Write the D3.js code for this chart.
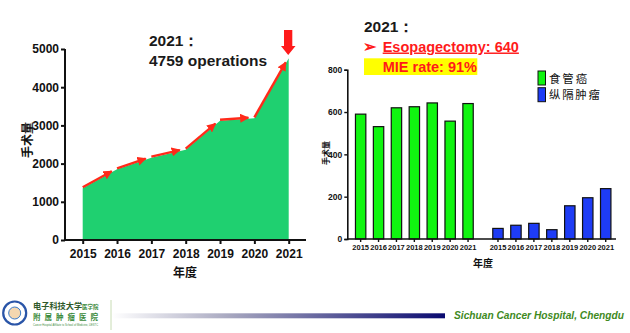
<!DOCTYPE html>
<html><head><meta charset="utf-8">
<script src="https://cdn.jsdelivr.net/npm/d3@7/dist/d3.min.js"></script>
<style>
html,body{margin:0;padding:0;background:#fff;}
svg{display:block;}
text{font-family:"Liberation Sans",Arial,sans-serif;}
.cjk{font-family:"Noto Sans CJK SC",sans-serif;}
</style></head>
<body>
<svg id="c" width="630" height="333"></svg>
<script>
// ---- data ----
const years = ["2015","2016","2017","2018","2019","2020","2021"];
const totalOps = [1353, 1850, 2155, 2364, 3123, 3185, 4759];
const leftYTicks = [0, 1000, 2000, 3000, 4000, 5000];
const esophagealCancer = [590, 531, 620, 625, 643, 557, 640];
const mediastinalTumor = [50, 65, 74, 44, 157, 195, 238];
const rightYTicks = [0, 200, 400, 600, 800];
const legendLabels = ["食管癌", "纵隔肿瘤"];

const svg = d3.select("#c");
const defs = svg.append("defs");
defs.append("marker").attr("id","ah").attr("viewBox","0 0 10 10").attr("refX",9).attr("refY",5)
  .attr("markerWidth",3.8).attr("markerHeight",3.8).attr("orient","auto")
  .append("path").attr("d","M0,0 L10,5 L0,10 z").attr("fill","#ff2a1a");

// ---------- LEFT CHART ----------
const xL = d3.scalePoint().domain(years).range([82.7, 288.7]);
const yL = d3.scaleLinear().domain([0, 5000]).range([240, 49]);
const gL = svg.append("g");
const pts = years.map((y,i)=>({year:y, v: totalOps[i]}));
gL.append("path").datum(pts)
  .attr("d", d3.area().x(d=>xL(d.year)).y0(yL(0)).y1(d=>yL(d.v)))
  .attr("fill","#1fd070");
// red arrows along the top edge
for (let i=0;i<pts.length-1;i++){
  const x1=xL(pts[i].year), y1=yL(pts[i].v)-1, x2=xL(pts[i+1].year), y2=yL(pts[i+1].v)-1;
  const dx=x2-x1, dy=y2-y1, L=Math.hypot(dx,dy), s=(L-6)/L;
  gL.append("line").attr("x1",x1).attr("y1",y1).attr("x2",x1+dx*s).attr("y2",y1+dy*s)
    .attr("stroke","#ff2a1a").attr("stroke-width",2.4).attr("marker-end","url(#ah)");
}
const axL = gL.append("g").attr("transform","translate(65,0)")
  .call(d3.axisLeft(yL).tickValues(leftYTicks).tickSize(4).tickPadding(2).tickFormat(d3.format("d")));
const axLx = gL.append("g").attr("transform","translate(0,240)")
  .call(d3.axisBottom(xL).tickSize(4).tickPadding(3));
[axL, axLx].forEach(a=>{
  a.selectAll("path").attr("stroke","#111").attr("stroke-width",2);
  a.selectAll("line").attr("stroke","#111").attr("stroke-width",2);
  a.selectAll("text").attr("fill","#111").attr("font-size",12).attr("font-weight","bold")
   .style("font-family","'Liberation Sans',Arial,sans-serif");
});
axLx.select("path.domain").attr("d","M65,0H306");
axL.select("path.domain").attr("d","M0,"+yL(0)+"V"+yL(5000));
axLx.selectAll("text").attr("dy","0.95em");
gL.append("text").attr("class","cjk").attr("transform","translate(32,140) rotate(-90)")
  .attr("text-anchor","middle").attr("font-size",12).attr("font-weight","bold").attr("fill","#111").text("手术量");
gL.append("text").attr("class","cjk").attr("x",185).attr("y",277)
  .attr("text-anchor","middle").attr("font-size",12).attr("font-weight","bold").attr("fill","#111").text("年度");
gL.append("text").attr("x",149).attr("y",46).attr("font-size",15.5).attr("font-weight","bold").attr("fill","#1a1a1a").text("2021：");
gL.append("text").attr("x",149).attr("y",66).attr("font-size",15.5).attr("font-weight","bold").attr("fill","#1a1a1a").text("4759 operations");
// big down arrow
gL.append("path").attr("d","M284,30 H292.3 V46 H295.5 L288.2,55 L281,46 H284 Z").attr("fill","#ff1a1a");

// ---------- RIGHT CHART ----------
const yR = d3.scaleLinear().domain([0, 800]).range([239, 69.7]);
const xG = d3.scaleBand().domain(years).range([351.7, 477]).paddingInner(0.42).paddingOuter(0.21);
const xB = d3.scaleBand().domain(years).range([489, 614.7]).paddingInner(0.42).paddingOuter(0.21);
const gR = svg.append("g");
gR.selectAll("rect.g").data(esophagealCancer).join("rect").attr("class","g")
  .attr("x",(d,i)=>xG(years[i])).attr("width",xG.bandwidth())
  .attr("y",d=>yR(d)).attr("height",d=>yR(0)-yR(d))
  .attr("fill","#10f510").attr("stroke","#111").attr("stroke-width",1.2);
gR.selectAll("rect.b").data(mediastinalTumor).join("rect").attr("class","b")
  .attr("x",(d,i)=>xB(years[i])).attr("width",xB.bandwidth())
  .attr("y",d=>yR(d)).attr("height",d=>yR(0)-yR(d))
  .attr("fill","#1e3cf5").attr("stroke","#111").attr("stroke-width",1.2);
const axR = gR.append("g").attr("transform","translate(347.3,0)")
  .call(d3.axisLeft(yR).tickValues(rightYTicks).tickSize(3).tickPadding(2));
const axRg = gR.append("g").attr("transform","translate(0,239)")
  .call(d3.axisBottom(xG).tickSize(3).tickPadding(3));
const axRb = gR.append("g").attr("transform","translate(0,239)")
  .call(d3.axisBottom(xB).tickSize(3).tickPadding(3));
[axR, axRg, axRb].forEach(a=>{
  a.selectAll("path").attr("stroke","#111").attr("stroke-width",1.6);
  a.selectAll("line").attr("stroke","#111").attr("stroke-width",1.4);
  a.selectAll("text").attr("fill","#111").attr("font-weight","bold")
   .style("font-family","'Liberation Sans',Arial,sans-serif");
});
axR.selectAll("text").attr("font-size",8.5);
axRg.selectAll("text").attr("font-size",7.5);
axRb.selectAll("text").attr("font-size",7.5);
axRb.select("path.domain").remove();
axRg.select("path.domain").attr("d","M347.3,0H616");
gR.append("text").attr("class","cjk").attr("transform","translate(329,153) rotate(-90)")
  .attr("text-anchor","middle").attr("font-size",8).attr("font-weight","bold").attr("fill","#111").text("手术量");
gR.append("text").attr("class","cjk").attr("x",483).attr("y",267)
  .attr("text-anchor","middle").attr("font-size",10).attr("font-weight","bold").attr("fill","#111").text("年度");
// legend
const legColors = ["#10f510","#1e3cf5"];
legendLabels.forEach((l,i)=>{
  gR.append("rect").attr("x",538).attr("y",71+i*16.7).attr("width",7.5).attr("height",14)
    .attr("fill",legColors[i]).attr("stroke","#111").attr("stroke-width",1);
  gR.append("text").attr("class","cjk").attr("x",549).attr("y",82.5+i*16.7)
    .attr("font-size",11.4).attr("fill","#111").attr("textLength", l.length*12.7).attr("lengthAdjust","spacing").text(l);
});
// annotation
gR.append("text").attr("x",364).attr("y",32).attr("font-size",15.5).attr("font-weight","bold").attr("fill","#1a1a1a").text("2021：");
gR.append("text").attr("class","cjk").attr("x",363).attr("y",52).attr("font-size",16).attr("font-weight","bold").attr("fill","#ff1a1a").text("➢");
gR.append("text").attr("x",382.7).attr("y",51.5).attr("font-size",14.5).attr("font-weight","bold").attr("fill","#ff1a1a")
  .attr("text-decoration","underline").text("Esopagectomy: 640");
gR.append("rect").attr("x",364).attr("y",58.3).attr("width",113.3).attr("height",16.7).attr("fill","#ffff00");
gR.append("text").attr("x",382.7).attr("y",71.5).attr("font-size",14.5).attr("font-weight","bold").attr("fill","#ff1a1a").text("MIE rate: 91%");

// ---------- FOOTER ----------
const gF = svg.append("g");
const grad = defs.append("linearGradient").attr("id","fg").attr("x1","0").attr("x2","1");
grad.append("stop").attr("offset","0").attr("stop-color","#ffffff");
grad.append("stop").attr("offset","0.35").attr("stop-color","#a8a8c0");
grad.append("stop").attr("offset","1").attr("stop-color","#0a0a70");
gF.append("rect").attr("x",112).attr("y",313.3).attr("width",333).attr("height",5).attr("fill","url(#fg)");
gF.append("text").attr("x",454).attr("y",319).attr("font-size",10.5).attr("font-weight","bold").attr("font-style","italic")
  .attr("fill","#3f8a1e").attr("textLength",170).attr("lengthAdjust","spacingAndGlyphs").text("Sichuan Cancer Hospital, Chengdu");
gF.append("line").attr("x1",111).attr("x2",111).attr("y1",300).attr("y2",330).attr("stroke","#c8dcb4").attr("stroke-width",1);
gF.append("circle").attr("cx",14.7).attr("cy",313).attr("r",11.5).attr("fill","#fff").attr("stroke","#2a55a8").attr("stroke-width",2.2);
gF.append("circle").attr("cx",14.7).attr("cy",313).attr("r",6).attr("fill","#f4d7b0").attr("stroke","#3a7ac8").attr("stroke-width",1);
gF.append("text").attr("class","cjk").attr("x",33).attr("y",309).attr("font-size",8.2).attr("font-weight","bold").attr("fill","#2f5a2a").text("电子科技大学");
gF.append("text").attr("class","cjk").attr("x",82).attr("y",309).attr("font-size",5.5).attr("font-weight","bold").attr("fill","#3a8a3a").text("医学院");
gF.append("text").attr("class","cjk").attr("x",33).attr("y",320).attr("font-size",7.5).attr("font-weight","bold").attr("fill","#3a8a3a")
  .attr("textLength",65).attr("lengthAdjust","spacing").text("附属肿瘤医院");
gF.append("text").attr("x",33).attr("y",325.5).attr("font-size",2.6).attr("fill","#3a8a3a")
  .attr("textLength",65).text("Cancer Hospital Affiliate to School of Medicine, UESTC");
</script>
</body></html>
